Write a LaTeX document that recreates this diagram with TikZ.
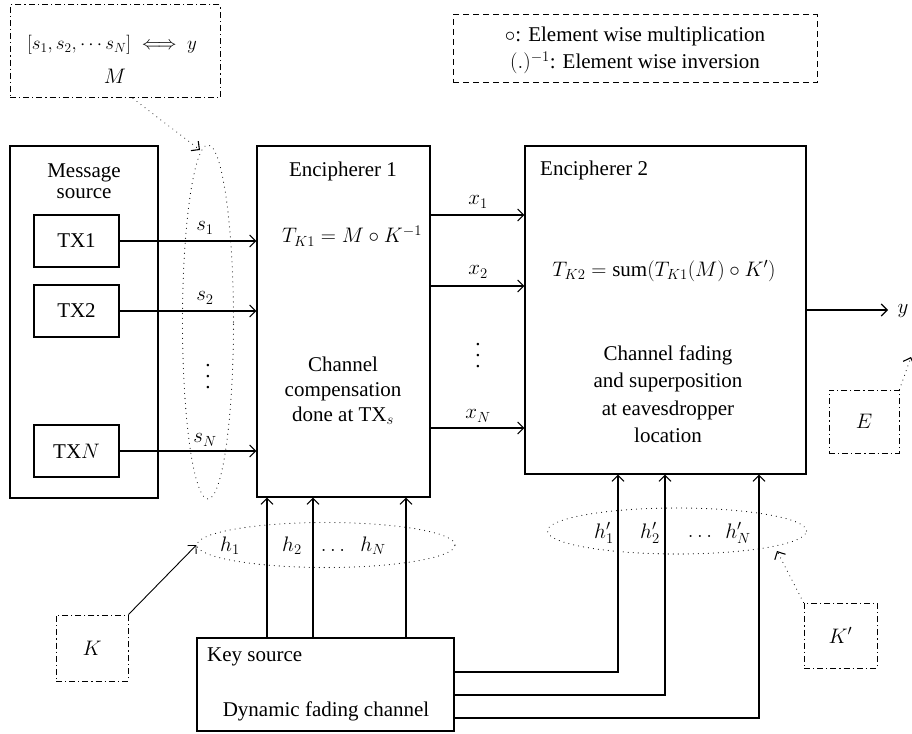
\RequirePackage{fix-cm}
\documentclass[tikz,border=0pt]{standalone}
\usepackage{fontspec}
\setmainfont{Liberation Serif}
\usetikzlibrary{arrows.meta,shapes.geometric}
\begin{document}
\begin{tikzpicture}[x=1pt,y=-1pt,
  every node/.style={font=\fontsize{21}{24}\selectfont},
  box/.style={draw,line width=1.1pt,inner sep=0pt},
  dashdot/.style={draw,line width=1pt,dash pattern=on 6pt off 3pt on 1.2pt off 3pt},
  dashbox/.style={draw,line width=1pt,dash pattern=on 6pt off 4pt},
  dotline/.style={line width=1.1pt,dash pattern=on 0.01pt off 5pt,line cap=round},
  arr/.style={line width=1.1pt,-{Straight Barb[length=6pt,width=12pt]}},
  darr/.style={dotline,-{Straight Barb[length=6pt,width=12pt,line cap=butt,sep=0pt]}},
  lbl/.style={inner sep=1pt},
  dotnode/.style={inner sep=0pt,text height=3pt,text depth=0pt,font=\fontsize{21}{21}\selectfont}
]
\useasboundingbox (0,0) rectangle (912,733);
% boxes
\node[dashdot,minimum width=210,minimum height=93] (mbox) at (115,51.5) {};
\node[lbl,font=\fontsize{19}{22}\selectfont] at (112,45) {$[s_1, s_2, \cdots s_N] \iff y$};
\node[lbl] at (115,76) {$M$};
\node[dashbox,minimum width=364,minimum height=68] (legend) at (635,49) {};
\node[lbl] at (635,36) {$\circ$: Element wise multiplication};
\node[lbl] at (635,63) {$(.)^{-1}$: Element wise inversion};

\node[box,minimum width=148,minimum height=352] (msrc) at (84,322) {};
\node[lbl,align=center,font=\fontsize{21}{21}\selectfont] at (84,181) {Message\\source};
\node[box,minimum width=85,minimum height=52] (tx1) at (76.5,241) {TX1};
\node[box,minimum width=85,minimum height=52] (tx2) at (76.5,311) {TX2};
\node[box,minimum width=85,minimum height=52] (txn) at (76.5,451) {TX$N$};

\node[box,minimum width=173,minimum height=351] (enc1) at (343.5,321.5) {};
\node[lbl] at (343,171) {Encipherer 1};
\node[lbl] at (352,236) {$T_{K1} = M \circ K^{-1}$};
\node[lbl,align=center,font=\fontsize{21}{25}\selectfont] at (343,391) {Channel\\compensation\\done at TX$_s$};

\node[box,minimum width=281,minimum height=328] (enc2) at (665.5,310) {};
\node[lbl,anchor=west] at (539,170) {Encipherer 2};
\node[lbl] at (664,271) {$T_{K2} = \mathrm{sum}(T_{K1}(M) \circ K')$};
\node[lbl,align=center,font=\fontsize{21}{27.5}\selectfont] at (668,394) {Channel fading\\and superposition\\at eavesdropper\\location};

\node[box,minimum width=257,minimum height=93] (key) at (325.5,684.5) {};
\node[lbl,anchor=west] at (206,657) {Key source};
\node[lbl] at (326,711) {Dynamic fading channel};

\node[dashdot,minimum width=70,minimum height=63] (ebox) at (864,421.5) {$E$};
\node[dashdot,minimum width=72,minimum height=66] (kbox) at (92,648) {$K$};
\node[dashdot,minimum width=73,minimum height=65] (kpbox) at (840.5,635.5) {$K'$};

% ellipses
\node[ellipse,dotline,draw,minimum width=51,minimum height=354,inner sep=0pt] (sell) at (208,322) {};
\node[ellipse,dotline,draw,minimum width=258,minimum height=45,inner sep=0pt] (hell) at (326,545) {};
\node[ellipse,dotline,draw,minimum width=259,minimum height=46,inner sep=0pt] (hpell) at (677,531) {};

% s arrows
\draw[arr] (tx1.east) -- (tx1.east -| enc1.west);
\draw[arr] (tx2.east) -- (tx2.east -| enc1.west);
\draw[arr] (txn.east) -- (txn.east -| enc1.west);
\node[lbl] at (205,228) {$s_1$};
\node[lbl] at (205,298) {$s_2$};
\node[lbl] at (205,440) {$s_N$};
\node[dotnode] (sd1) at (208,365) {.};
\node[dotnode] (sd2) at (208,376) {.};
\node[dotnode] (sd3) at (208,387) {.};

% x arrows
\coordinate (x1) at (430,215);
\coordinate (x2) at (430,286);
\coordinate (xn) at (430,428);
\draw[arr] (x1 -| enc1.east) -- (x1 -| enc2.west);
\draw[arr] (x2 -| enc1.east) -- (x2 -| enc2.west);
\draw[arr] (xn -| enc1.east) -- (xn -| enc2.west);
\node[lbl] at (478,202) {$x_1$};
\node[lbl] at (478,272) {$x_2$};
\node[lbl] at (478,416) {$x_N$};
\node[dotnode] (xd1) at (478,344) {.};
\node[dotnode] (xd2) at (478,355) {.};
\node[dotnode] (xd3) at (478,366) {.};

% y out
\node[lbl] (yout) at (903,311) {$y$};
\draw[arr] (enc2.east) -- (888,310);

% key source to enc1
\foreach \xx in {267,313,406}{
  \draw[arr] (key.north -| \xx,0) -- (enc1.south -| \xx,0);
}
% key source to enc2
\draw[arr] (key.east |- 0,672) -| (enc2.south -| 618,0);
\draw[arr] (key.east |- 0,695) -| (enc2.south -| 665,0);
\draw[arr] (key.east |- 0,718) -| (enc2.south -| 759,0);

% h labels
\node[lbl] at (230,546) {$h_1$};
\node[lbl] at (292,546) {$h_2$};
\node[lbl] at (333,550) {$\ldots$};
\node[lbl] at (373,546) {$h_N$};
\node[lbl] at (604,533) {$h'_1$};
\node[lbl] at (650,533) {$h'_2$};
\node[lbl] at (700,536) {$\ldots$};
\node[lbl] at (738,533) {$h'_N$};

% pointer arrows
\coordinate (mtip) at (200,150);
\draw[darr] (mbox.south -| 133,0) -- (mtip);
\draw[arr,line width=0.9pt] (kbox.north east) -- (hell.west);
\coordinate (kptip) at (777,551);
\draw[darr] (kpbox.north west) -- (kptip);
\coordinate (etip) at (911,357);
\draw[darr] (ebox.north east) -- (etip);
\end{tikzpicture}
\end{document}
